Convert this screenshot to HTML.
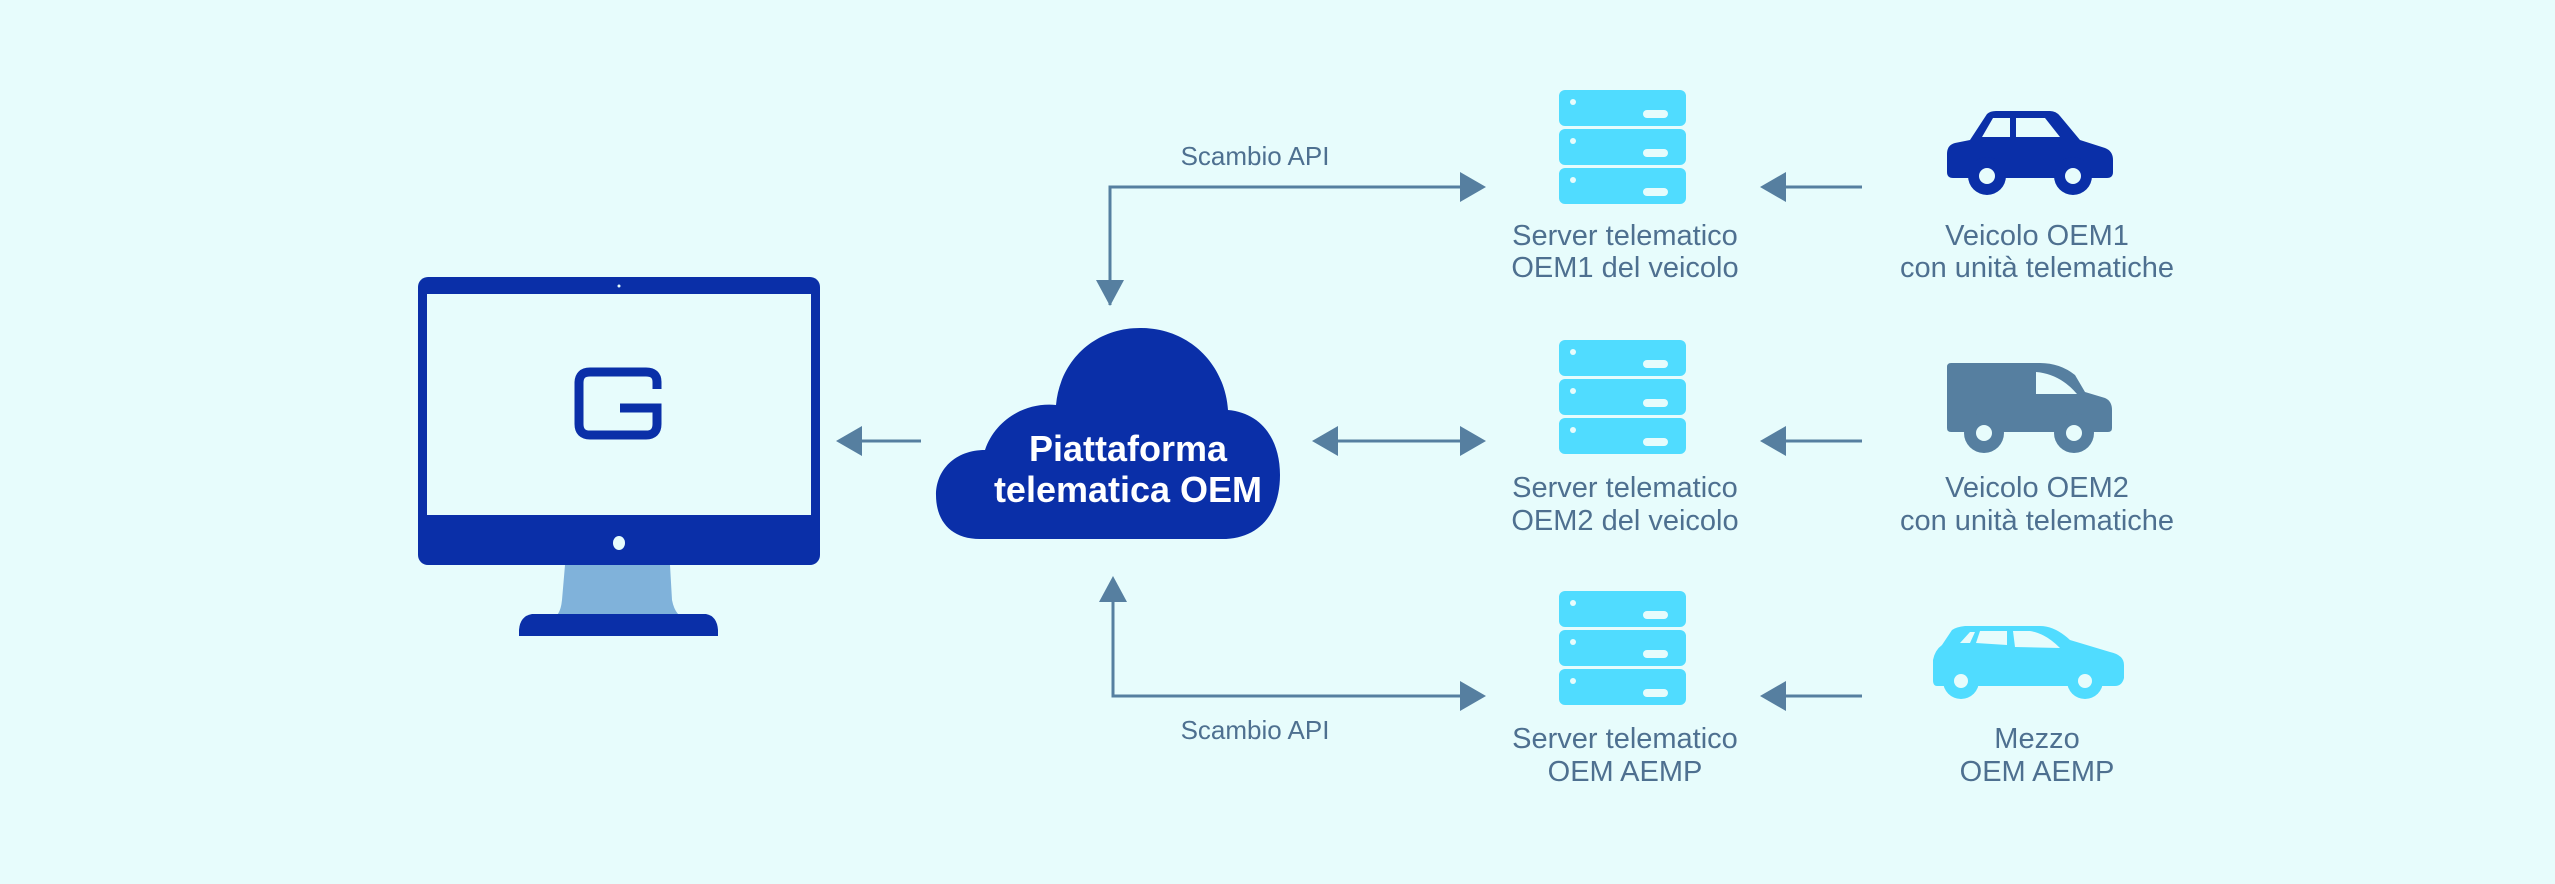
<!DOCTYPE html>
<html><head><meta charset="utf-8"><style>
html,body{margin:0;padding:0;background:#e7fcfc;}
svg{display:block}
text{font-family:"Liberation Sans",sans-serif;}
</style></head><body>
<svg width="2555" height="884" viewBox="0 0 2555 884" xmlns="http://www.w3.org/2000/svg">
<rect width="2555" height="884" fill="#e7fcfc"/>
<defs>
<g id="srv">
 <rect x="0" y="0" width="127" height="36" rx="6" fill="#50dcff"/>
 <rect x="0" y="39" width="127" height="36" rx="6" fill="#50dcff"/>
 <rect x="0" y="78" width="127" height="36" rx="6" fill="#50dcff"/>
 <circle cx="14" cy="12" r="3" fill="#e7fcfc"/><rect x="84" y="20" width="25" height="8" rx="4" fill="#e7fcfc"/>
 <circle cx="14" cy="51" r="3" fill="#e7fcfc"/><rect x="84" y="59" width="25" height="8" rx="4" fill="#e7fcfc"/>
 <circle cx="14" cy="90" r="3" fill="#e7fcfc"/><rect x="84" y="98" width="25" height="8" rx="4" fill="#e7fcfc"/>
</g>
</defs>
<!-- monitor -->
<rect x="418" y="277" width="402" height="288" rx="10" fill="#0a2fa8"/>
<rect x="427" y="294" width="384" height="221" fill="#e7fcfc"/>
<circle cx="619" cy="286" r="1.5" fill="#e7fcfc"/>
<ellipse cx="619" cy="543" rx="6" ry="7" fill="#e7fcfc"/>
<path d="M565 565 L670 565 L672 600 Q676 620 690 618 L548 618 Q560 620 562 600 Z" fill="#80b2da"/>
<path d="M532 614 L706 614 Q717 616 718 630 L718 636 L519 636 L519 630 Q520 616 532 614 Z" fill="#0a2fa8"/>
<path d="M657 389 L657 382 Q657 372 646 372 L590 372 Q579 372 579 383 L579 424 Q579 435 590 435 L646 435 Q657 435 657 424 L657 408 L620 408" fill="none" stroke="#0a2fa8" stroke-width="9"/>
<!-- cloud -->
<path d="M980 539 C950 539 936 520 936 495 C936 470 955 450 985 450 C995 420 1025 402 1056 405 C1060 360 1095 328 1140 328 C1190 328 1225 365 1228 410 C1262 413 1280 440 1280 475 C1280 515 1258 539 1222 539 Z" fill="#0a2fa8"/>
<text x="1128" y="461" font-size="36" font-weight="bold" fill="#fff" text-anchor="middle">Piattaforma</text>
<text x="1128" y="502" font-size="36" font-weight="bold" fill="#fff" text-anchor="middle">telematica OEM</text>
<!-- arrows -->
<g stroke="#567fa0" stroke-width="3" fill="none">
<line x1="921" y1="441" x2="852" y2="441"/>
<polyline points="1110,305 1110,187 1470,187"/>
<polyline points="1113,580 1113,696 1470,696"/>
<line x1="1328" y1="441" x2="1470" y2="441"/>
<line x1="1862" y1="187" x2="1776" y2="187"/>
<line x1="1862" y1="441" x2="1776" y2="441"/>
<line x1="1862" y1="696" x2="1776" y2="696"/>
</g>
<g fill="#567fa0">
<polygon points="836,441 862,426 862,456"/>
<polygon points="1110,306 1096,280 1124,280"/>
<polygon points="1113,576 1099,602 1127,602"/>
<polygon points="1486,187 1460,172 1460,202"/>
<polygon points="1486,696 1460,681 1460,711"/>
<polygon points="1312,441 1338,426 1338,456"/>
<polygon points="1486,441 1460,426 1460,456"/>
<polygon points="1760,187 1786,172 1786,202"/>
<polygon points="1760,441 1786,426 1786,456"/>
<polygon points="1760,696 1786,681 1786,711"/>
</g>
<g font-size="26" fill="#4e7090" text-anchor="middle">
<text x="1255" y="165">Scambio API</text>
<text x="1255" y="739">Scambio API</text>
</g>
<g font-size="29" fill="#4e7090" text-anchor="middle">
<text x="1625" y="245">Server telematico</text>
<text x="1625" y="277">OEM1 del veicolo</text>
<text x="1625" y="497">Server telematico</text>
<text x="1625" y="530">OEM2 del veicolo</text>
<text x="1625" y="748">Server telematico</text>
<text x="1625" y="781">OEM AEMP</text>
<text x="2037" y="245">Veicolo OEM1</text>
<text x="2037" y="277">con unità telematiche</text>
<text x="2037" y="497">Veicolo OEM2</text>
<text x="2037" y="530">con unità telematiche</text>
<text x="2037" y="748">Mezzo</text>
<text x="2037" y="781">OEM AEMP</text>
</g>
<use href="#srv" x="1559" y="90"/>
<use href="#srv" x="1559" y="340"/>
<use href="#srv" x="1559" y="591"/>
<!-- car 1 -->
<g fill="#0a2fa8">
<path d="M1987 114 Q1990 111 1996 111 L2050 111 Q2056 111 2060 116 L2080 140 L2105 148 Q2113 151 2113 160 L2113 172 Q2113 178 2107 178 L1953 178 Q1947 178 1947 172 L1947 154 Q1947 145 1955 143 L1970 140 Z"/>
<circle cx="1987" cy="176" r="19"/><circle cx="2073" cy="176" r="19"/>
</g>
<path d="M1982 137 L1993 118 L2010 118 L2010 137 Z M2016 118 L2045 118 L2060 137 L2016 137 Z" fill="#e7fcfc"/>
<circle cx="1987" cy="176" r="8" fill="#e7fcfc"/><circle cx="2073" cy="176" r="8" fill="#e7fcfc"/>
<!-- van -->
<g fill="#567fa0">
<path d="M1951 363 L2040 363 Q2060 363 2075 375 L2085 392 L2105 398 Q2112 401 2112 410 L2112 428 Q2112 432 2108 432 L1951 432 Q1947 432 1947 428 L1947 367 Q1947 363 1951 363 Z"/>
<circle cx="1984" cy="433" r="20"/><circle cx="2074" cy="433" r="20"/>
</g>
<path d="M2036 372 Q2060 374 2077 394 L2036 394 Z" fill="#e7fcfc"/>
<circle cx="1984" cy="433" r="8" fill="#e7fcfc"/><circle cx="2074" cy="433" r="8" fill="#e7fcfc"/>
<!-- suv -->
<g fill="#50dcff">
<path d="M1952 630 Q1956 627 1965 626 L2040 626 Q2055 626 2070 640 L2110 652 Q2124 655 2124 665 L2124 678 Q2122 686 2115 686 L1937 686 Q1933 686 1933 680 L1933 660 Q1935 650 1942 645 Z"/>
<circle cx="1961" cy="681" r="18"/><circle cx="2085" cy="681" r="18"/>
</g>
<path d="M1960 643 L1970 632 L1975 632 L1970 643 Z M1976 643 L1980 631 L2007 631 L2007 645 Z M2013 631 L2030 631 Q2045 633 2060 648 L2015 647 Z" fill="#e7fcfc"/>
<circle cx="1961" cy="681" r="7" fill="#e7fcfc"/><circle cx="2085" cy="681" r="7" fill="#e7fcfc"/>
</svg>
</body></html>
